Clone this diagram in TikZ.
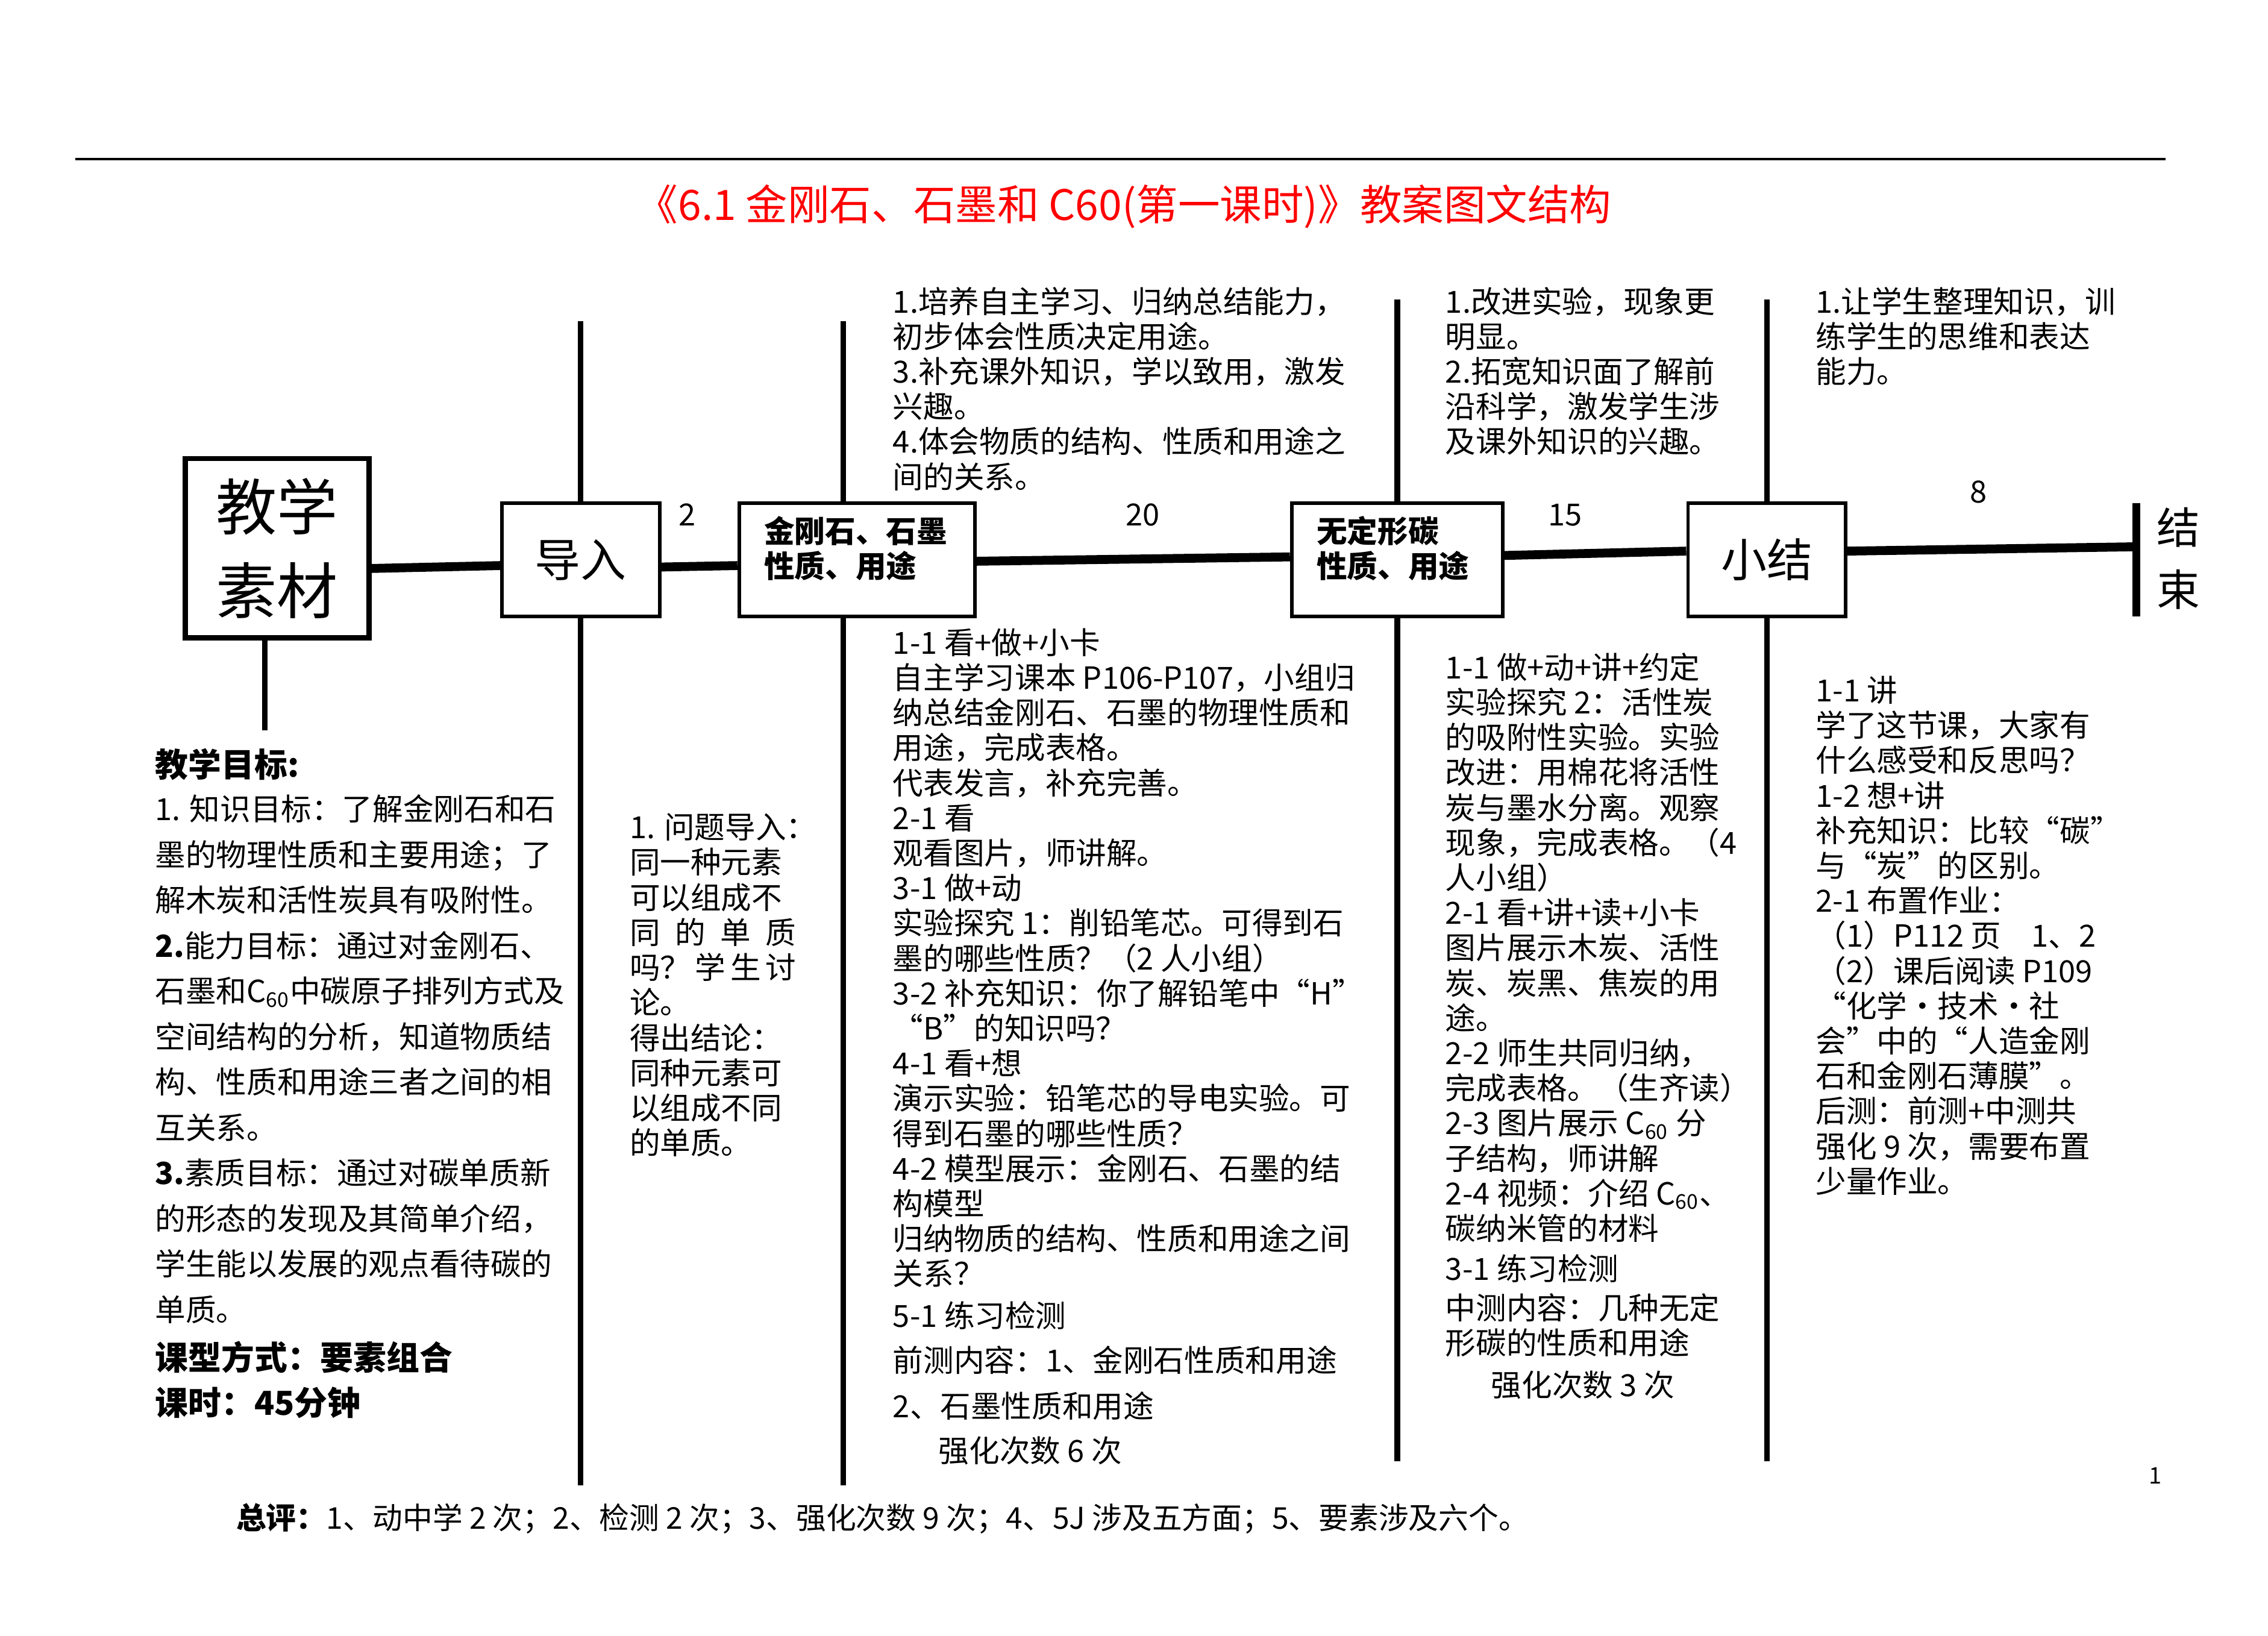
\documentclass[tikz,border=0pt]{standalone}
\usepackage{fontspec}
\setmainfont{Noto Sans CJK SC}
\begin{document}
\begin{tikzpicture}[x=0.02cm, y=-0.02cm,
  box/.style={draw, line width=1.4pt, fill=white, inner sep=0pt, minimum height=1.56cm},
  vline/.style={line width=2.2pt},
  mainline/.style={line width=3.5pt},
  txt/.style={anchor=north west, inner sep=0pt, align=left, font=\fontsize{12pt}{13.8pt}\selectfont},
  lefttxt/.style={txt, font=\fontsize{12pt}{17.9pt}\selectfont},
  boldtxt/.style={txt, font=\fontsize{13pt}{17.6pt}\selectfont\bfseries},
  boxlbl/.style={inner sep=0pt, anchor=west, align=left, font=\fontsize{12pt}{13.8pt}\selectfont\bfseries},
  num/.style={inner sep=0pt, font=\fontsize{12pt}{14pt}\selectfont}]

  \useasboundingbox (0,0) rectangle (1568,1131);

  % Top rule and title
  \coordinate (ruleL) at (52,110);
  \coordinate (ruleR) at (1497,110);
  \draw[line width=0.8pt] (ruleL) -- (ruleR);
  \node[text=red, inner sep=0pt, font=\fontsize{16.5pt}{18pt}\selectfont] (title) at (777,143)
    {《6.1 金刚石、石墨和 C60(第一课时)》教案图文结构};

  % Stage boxes
  \node[box, line width=2.1pt, minimum width=2.54cm, minimum height=2.48cm,
        align=center, font=\fontsize{24pt}{33pt}\selectfont] (sucai) at (191.5,379) {教学\\素材};
  \node[box, minimum width=2.18cm, font=\fontsize{18pt}{20pt}\selectfont] (daoru) at (401.5,387) {导入};
  \node[box, minimum width=3.26cm] (jgs) at (592.5,387) {};
  \node[box, minimum width=2.92cm] (wdx) at (966,387) {};
  \node[box, minimum width=2.18cm, font=\fontsize{18pt}{20pt}\selectfont] (xiaojie) at (1221.5,387) {小结};
  \node[boxlbl] (jgslbl) at (528,379) {金刚石、石墨\\性质、用途};
  \node[boxlbl] (wdxlbl) at (910,379) {无定形碳\\性质、用途};

  % End bar
  \coordinate (endT) at (1477,348);
  \coordinate (endB) at (1477,426);
  \coordinate (endM) at (1477,378);
  \draw[line width=3.2pt] (endT) -- (endB);
  \node[inner sep=0pt, align=center, font=\fontsize{17pt}{24.4pt}\selectfont] (jieshu) at (1506,386) {结\\束};

  % Main line
  \draw[mainline] ([yshift=-0.28cm]sucai.east) -- ([yshift=-0.08cm]daoru.west);
  \draw[mainline] ([yshift=-0.1cm]daoru.east) -- ([yshift=-0.08cm]jgs.west);
  \draw[mainline] ([yshift=-0.02cm]jgs.east) -- ([yshift=0.04cm]wdx.west);
  \draw[mainline] ([yshift=0.06cm]wdx.east) -- ([yshift=0.12cm]xiaojie.west);
  \draw[mainline] ([yshift=0.12cm]xiaojie.east) -- (endM);

  % Vertical lines
  \coordinate (sucaiB) at (183,505);
  \coordinate (daoruT) at (401.5,222);
  \coordinate (daoruB) at (401.5,1027);
  \coordinate (jgsT) at (583,222);
  \coordinate (jgsB) at (583,1027);
  \coordinate (wdxT) at (966,207);
  \coordinate (wdxB) at (966,1010);
  \coordinate (xiaojieT) at (1221.5,207);
  \coordinate (xiaojieB) at (1221.5,1010);
  \draw[vline] (sucaiB |- sucai.south) -- (sucaiB);
  \draw[vline] (daoru.north) -- (daoruT);
  \draw[vline] (daoru.south) -- (daoruB);
  \draw[vline] (jgsT) -- (jgsT |- jgs.north);
  \draw[vline] (jgsT |- jgs.south) -- (jgsB);
  \draw[vline] (wdx.north) -- (wdxT);
  \draw[vline] (wdx.south) -- (wdxB);
  \draw[vline] (xiaojie.north) -- (xiaojieT);
  \draw[vline] (xiaojie.south) -- (xiaojieB);

  % Minutes
  \node[num] (min1) at (475,356) {2};
  \node[num] (min2) at (790,356) {20};
  \node[num] (min3) at (1082,356) {15};
  \node[num] (min4) at (1368,340) {8};

  % Goals above the line
  \node[txt] (jgsgoal) at (617,198) {1.培养自主学习、归纳总结能力，\\
    初步体会性质决定用途。\\
    3.补充课外知识，学以致用，激发\\
    兴趣。\\
    4.体会物质的结构、性质和用途之\\
    间的关系。};
  \node[txt] (wdxgoal) at (999,198) {1.改进实验，现象更\\
    明显。\\
    2.拓宽知识面了解前\\
    沿科学，激发学生涉\\
    及课外知识的兴趣。};
  \node[txt] (xjgoal) at (1255,198) {1.让学生整理知识，训\\
    练学生的思维和表达\\
    能力。};

  % Left column
  \node[boldtxt] (mubiao) at (107,517) {教学目标:};
  \node[lefttxt] (mubiaotxt) at (107,549) {1. 知识目标：了解金刚石和石\\
    墨的物理性质和主要用途；了\\
    解木炭和活性炭具有吸附性。\\
    \textbf{2.}能力目标：通过对金刚石、\\
    石墨和C\textsubscript{60}中碳原子排列方式及\\
    空间结构的分析，知道物质结\\
    构、性质和用途三者之间的相\\
    互关系。\\
    \textbf{3.}素质目标：通过对碳单质新\\
    的形态的发现及其简单介绍，\\
    学生能以发展的观点看待碳的\\
    单质。};
  \node[boldtxt] (kexing) at (107,927) {课型方式：要素组合\\
    课时：45分钟};

  % Activities below the line
  \node[txt] (daorutxt) at (435,562) {1. 问题导入：\\
    同一种元素\\
    可以组成不\\
    \makebox[2.3cm][l]{同\hfill 的\hfill 单\hfill 质}\\
    \makebox[2.3cm][l]{吗？\hfill 学\hfill 生\hfill 讨}\\
    论。\\
    得出结论：\\
    同种元素可\\
    以组成不同\\
    的单质。};
  \node[txt] (jgstxt) at (617,434) {1-1 看+做+小卡\\
    自主学习课本 P106-P107，小组归\\
    纳总结金刚石、石墨的物理性质和\\
    用途，完成表格。\\
    代表发言，补充完善。\\
    2-1 看\\
    观看图片，师讲解。\\
    3-1 做+动\\
    实验探究 1：削铅笔芯。可得到石\\
    墨的哪些性质？（2 人小组）\\
    3-2 补充知识：你了解铅笔中“H”\\
    “B”的知识吗？\\
    4-1 看+想\\
    演示实验：铅笔芯的导电实验。可\\
    得到石墨的哪些性质？\\
    4-2 模型展示：金刚石、石墨的结\\
    构模型\\
    归纳物质的结构、性质和用途之间\\
    关系？\\[2.7pt]
    5-1 练习检测\\[3.8pt]
    前测内容：1、金刚石性质和用途\\[4.2pt]
    2、石墨性质和用途\\[3.8pt]
    \hspace*{1.5em}强化次数 6 次};
  \node[txt] (wdxtxt) at (999,451) {1-1 做+动+讲+约定\\
    实验探究 2：活性炭\\
    的吸附性实验。实验\\
    改进：用棉花将活性\\
    炭与墨水分离。观察\\
    现象，完成表格。（4\\
    人小组）\\
    2-1 看+讲+读+小卡\\
    图片展示木炭、活性\\
    炭、炭黑、焦炭的用\\
    途。\\
    2-2 师生共同归纳，\\
    完成表格。（生齐读）\\
    2-3 图片展示 C\textsubscript{60} 分\\
    子结构，师讲解\\
    2-4 视频：介绍 C\textsubscript{60}、\\
    碳纳米管的材料\\[2.1pt]
    3-1 练习检测\\[1.6pt]
    中测内容：几种无定\\
    形碳的性质和用途\\[2.7pt]
    \hspace*{1.5em}强化次数 3 次};
  \node[txt] (xjtxt) at (1255,467) {1-1 讲\\
    学了这节课，大家有\\
    什么感受和反思吗？\\
    1-2 想+讲\\
    补充知识：比较“碳”\\
    与“炭”的区别。\\
    2-1 布置作业：\\
    （1）P112 页　1、2\\
    （2）课后阅读 P109\\
    “化学·技术·社\\
    会”中的“人造金刚\\
    石和金刚石薄膜”。\\
    后测：前测+中测共\\
    强化 9 次，需要布置\\
    少量作业。};

  % Summary and page number
  \node[inner sep=0pt, font=\fontsize{9pt}{10pt}\selectfont] (page) at (1490,1020) {1};
  \node[anchor=west, inner sep=0pt, font=\fontsize{11.8pt}{13pt}\selectfont] (zongping) at (163,1050)
    {\textbf{总评：}1、动中学 2 次；2、检测 2 次；3、强化次数 9 次；4、5J 涉及五方面；5、要素涉及六个。};

\end{tikzpicture}
\end{document}
